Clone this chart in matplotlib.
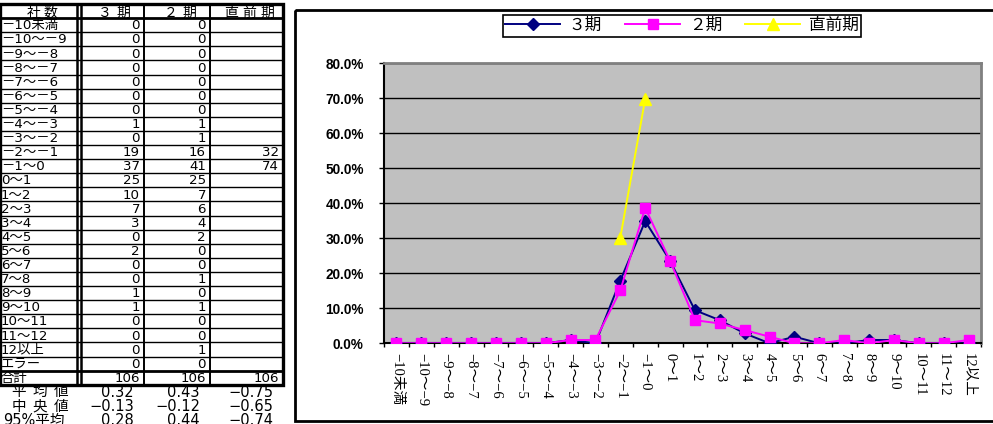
import matplotlib
matplotlib.use("Agg")
import matplotlib.pyplot as plt
from matplotlib.patches import Rectangle
import numpy as np

plt.rcParams['font.family'] = ['Noto Sans CJK JP', 'DejaVu Sans']

# ---- data -------------------------------------------------------------
categories = ["−10未満", "−10〜−9", "−9〜−8", "−8〜−7", "−7〜−6", "−6〜−5",
              "−5〜−4", "−4〜−3", "−3〜−2", "−2〜−1", "−1〜0", "0〜1",
              "1〜2", "2〜3", "3〜4", "4〜5", "5〜6", "6〜7", "7〜8",
              "8〜9", "9〜10", "10〜11", "11〜12", "12以上"]
series_names = ["３期", "２期", "直前期"]
counts_3 = [0, 0, 0, 0, 0, 0, 0, 1, 0, 19, 37, 25, 10, 7, 3, 0, 2, 0, 0, 1, 1, 0, 0, 0]
counts_2 = [0, 0, 0, 0, 0, 0, 0, 1, 1, 16, 41, 25, 7, 6, 4, 2, 0, 0, 1, 0, 1, 0, 0, 1]
counts_pre = [None, None, None, None, None, None, None, None, None, 32, 74,
              None, None, None, None, None, None, None, None, None, None, None, None, None]
errors = [0, 0, None]
totals = [106, 106, 106]
stat_labels = ["平均値", "中央値", "95%平均"]
stat_mean = ["0.32", "0.43", "−0.75"]
stat_median = ["−0.13", "−0.12", "−0.65"]
stat_trim = ["0.28", "0.44", "−0.74"]
y_ticks = [0, 10, 20, 30, 40, 50, 60, 70, 80]

W, H = 993, 424
fig = plt.figure(figsize=(W / 100, H / 100), dpi=100)

TAB_FONT = ['DejaVu Sans', 'Noto Sans CJK JP']
WIDE = str.maketrans({"−": "－"})

# ---- overlay in pixel coordinates: table and chart frame ---------------
ov = fig.add_axes([0, 0, 1, 1], zorder=0)
ov.set_xlim(0, W)
ov.set_ylim(H, 0)
ov.axis("off")
ov.patch.set_alpha(0)


def spaced(xc, y, s, pitch, **kw):
    """Draw a string one character at a time with a fixed pitch, centred on xc."""
    x0 = xc - pitch * (len(s) - 1) / 2
    for k, ch in enumerate(s):
        ov.text(x0 + k * pitch, y, ch, ha="center", va="center", **kw)


# chart frame
ov.add_patch(Rectangle((295, 10), 720, 411, fill=False, lw=2.0, ec="black"))

# table geometry
tab_top = 4.0
row_h = 14.1
col_x = [0, 78, 144, 210, 283]   # label | 3期 | 2期 | 直前期
n_rows = 1 + len(categories) + 2
tab_bot = tab_top + n_rows * row_h
fs = 9.6


def row_center(i):
    return tab_top + row_h * i + row_h / 2 + 0.7


# header
spaced((col_x[0] + col_x[1]) / 2 + 3, row_center(0) + 0.8, "社数", 17, fontsize=10)
for j, name in enumerate(series_names):
    spaced((col_x[j + 1] + col_x[j + 2]) / 2 + 3, row_center(0) + 0.8, name, 18, fontsize=10)

rows_labels = categories + ["エラー", "合計"]
col_values = [counts_3 + [errors[0], totals[0]],
              counts_2 + [errors[1], totals[1]],
              counts_pre + [errors[2], totals[2]]]
for i, lab in enumerate(rows_labels):
    y = row_center(i + 1)
    t = ov.text(1, y, lab.translate(WIDE), ha="left", va="center", fontsize=fs,
                family=TAB_FONT)
    clip = Rectangle((0, tab_top + row_h * (i + 1)), col_x[1] - 1, row_h,
                     transform=ov.transData)
    t.set_clip_path(clip)
    for j in range(3):
        v = col_values[j][i]
        if v is not None:
            ov.text(col_x[j + 2] - 4, y, str(v), ha="right", va="center", fontsize=fs,
                    family=TAB_FONT)

# table lines
for i in range(1, n_rows):
    yy = tab_top + row_h * i
    lw = 2.0 if i in (1, n_rows - 1) else 1.0
    ov.plot([0, col_x[-1]], [yy, yy], color="black", lw=lw, solid_capstyle="butt")
ov.add_patch(Rectangle((0, tab_top), col_x[-1], tab_bot - tab_top, fill=False, lw=2.4, ec="black"))
ov.plot([col_x[1] - 1, col_x[1] - 1], [tab_top, tab_bot], color="black", lw=1.8)
ov.plot([col_x[1] + 3, col_x[1] + 3], [tab_top, tab_bot], color="black", lw=1.8)
for x in col_x[2:4]:
    ov.plot([x, x], [tab_top, tab_bot], color="black", lw=1.4)

# summary statistics below the table
for k, (lab, vals) in enumerate(zip(stat_labels, [stat_mean, stat_median, stat_trim])):
    y = tab_bot + 7.5 + k * 14.3
    if any(c.isdigit() for c in lab):
        ov.text(3, y, lab, ha="left", va="center", fontsize=10.5, family=TAB_FONT)
    else:
        spaced(40, y, lab, 21, fontsize=10.5)
    for j, v in enumerate(vals):
        ov.text(col_x[j + 2] - 10, y, v, ha="right", va="center", fontsize=10.5,
                family=TAB_FONT)

# ---- line chart --------------------------------------------------------
px_l, px_r, px_t, px_b = 384, 981, 63.3, 343.3
ax = fig.add_axes([px_l / W, 1 - px_b / H, (px_r - px_l) / W, (px_b - px_t) / H], zorder=1)
ax.set_facecolor("#C0C0C0")

x = np.arange(len(categories))
total = totals[0]
pct_3 = np.array(counts_3, dtype=float) / total * 100
pct_2 = np.array(counts_2, dtype=float) / total * 100
pct_pre = np.array([np.nan if v is None else v for v in counts_pre], dtype=float) / total * 100

l3, = ax.plot(x, pct_3, color="#000080", lw=1.4, marker="D", ms=6, mfc="#000080",
              mec="#000080", zorder=3, label=series_names[0])
l2, = ax.plot(x, pct_2, color="#FF00FF", lw=1.4, marker="s", ms=7, mfc="#FF00FF",
              mec="#FF00FF", zorder=4, label=series_names[1])
lp, = ax.plot(x, pct_pre, color="#FFFF00", lw=1.4, marker="^", ms=8, mfc="#FFFF00",
              mec="#FFFF00", zorder=5, label=series_names[2])

ax.set_xlim(-0.5, len(categories) - 0.5)
ax.set_ylim(0, 80)
ax.set_yticks(y_ticks)
ax.set_yticklabels([f"{v:.1f}%" for v in y_ticks], fontsize=9.8, fontweight="bold",
                   family="Liberation Sans")
ax.yaxis.grid(True, color="black", lw=1.0)
ax.set_axisbelow(True)

ax.set_xticks(x)
ax.set_xticklabels(categories, rotation=-90, fontsize=10.5, va="top", ha="center",
                   family=['Liberation Serif', 'Noto Sans CJK JP'])
ax.set_xticks(np.arange(len(categories) + 1) - 0.5, minor=True)
ax.tick_params(axis="x", which="major", length=0, pad=7)
ax.tick_params(axis="x", which="minor", length=3, width=1, direction="out")
ax.tick_params(axis="y", which="major", length=3.5, width=1, direction="out", pad=11)

for s in ("top", "right"):
    ax.spines[s].set_color("#808080")
    ax.spines[s].set_linewidth(2)
for s in ("left", "bottom"):
    ax.spines[s].set_color("black")
    ax.spines[s].set_linewidth(1.5)

leg = fig.legend(handles=[l3, l2, lp], loc="center", ncol=3,
                 bbox_to_anchor=(682 / W, 1 - 25.5 / H), fontsize=12,
                 frameon=True, fancybox=False, edgecolor="black", framealpha=1,
                 handlelength=3.3, handletextpad=0.5, columnspacing=1.4,
                 borderpad=0.15)
leg.get_frame().set_linewidth(1.2)

fig.savefig("out.png", dpi=100)
